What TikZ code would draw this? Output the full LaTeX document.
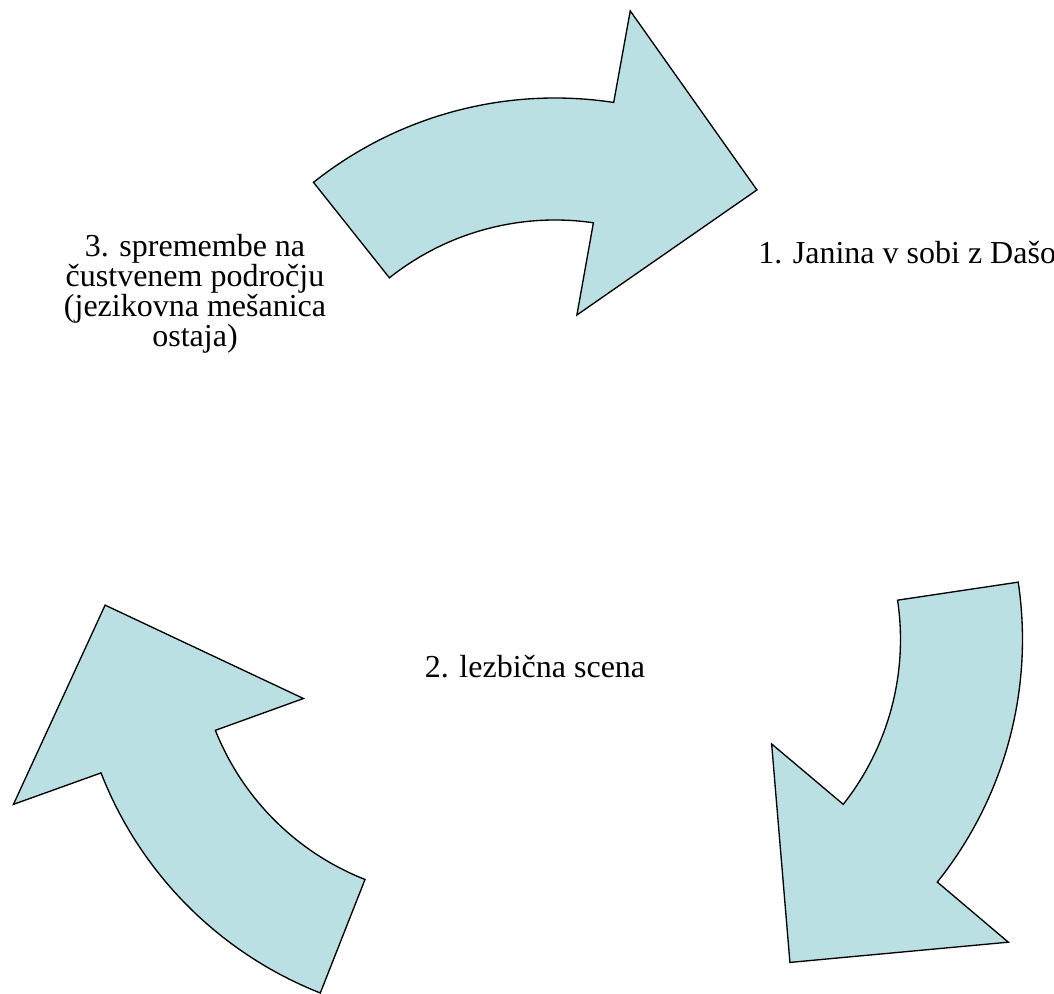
\documentclass[tikz,border=0pt]{standalone}
\usepackage{fontspec}
\setmainfont{Liberation Serif}
\definecolor{arrowfill}{RGB}{187,224,227}
\begin{document}
\begin{tikzpicture}[x=0.75pt,y=0.75pt,
  cyclearrow/.style={fill=arrowfill, draw=black, line width=1pt, line join=miter},
  steplabel/.style={inner sep=0pt, font=\fontsize{24pt}{22.8pt}\selectfont},
  bentarrow/.pic={
    \path[cyclearrow]
      (128.5:388) arc[start angle=128.5, end angle=81.3, radius=388]
      -- (81:481) -- (55.7:358.4) -- (82.7:172.4)
      -- (81.7:266) arc[start angle=81.7, end angle=128.5, radius=266]
      -- cycle;
  }]
\useasboundingbox (0,0) rectangle (1054,994);

% three curved arrows of the cycle, one shape turned by 120 degrees each time
\pic (arrowtop)   at (555,508)     {bentarrow};
\pic[rotate=-120] (arrowright) at (634.5,354.5) {bentarrow};
\pic[rotate=120]  (arrowleft)  at (462.5,362)   {bentarrow};

% step labels
\node[steplabel, anchor=base west] (stepone) at (758,730.5) {1. Janina v sobi z Dašo};
\node[steplabel, anchor=base] (steptwo) at (535,316) {2. lezbična scena};
\node[steplabel, anchor=base] (stepthree) at (195,737.3)
  {\begin{tabular}[t]{@{}c@{}}3. spremembe na\\[-1pt]čustvenem področju\\[-1pt](jezikovna mešanica\\[-1pt]ostaja)\end{tabular}};
\end{tikzpicture}
\end{document}
